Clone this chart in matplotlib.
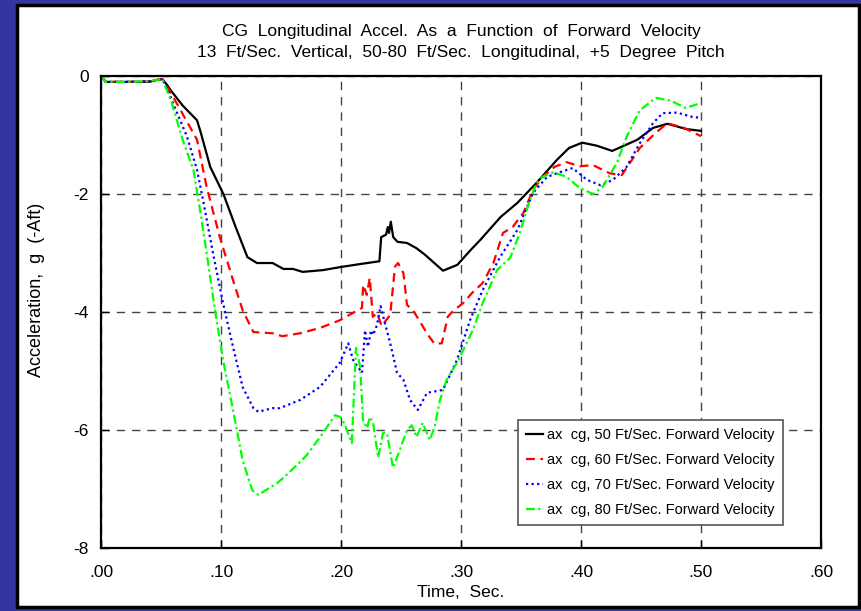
import numpy as np
import matplotlib
matplotlib.use("Agg")
import matplotlib.pyplot as plt
from matplotlib.patches import Rectangle

plt.rcParams['font.family'] = ['Liberation Sans', 'DejaVu Sans']
plt.rcParams['axes.unicode_minus'] = False

# time (s) and longitudinal acceleration at the CG (g), one pair per forward velocity
t_50 = [0.000, 0.004, 0.020, 0.040, 0.048, 0.051, 0.055, 0.058, 0.068, 0.080, 0.083, 0.091,
        0.102, 0.112, 0.122, 0.130, 0.143, 0.152, 0.160, 0.168, 0.185, 0.199, 0.215, 0.232,
        0.2335, 0.2375, 0.239, 0.240, 0.2415, 0.2435, 0.247, 0.255, 0.263, 0.270, 0.285,
        0.297, 0.308, 0.316, 0.333, 0.347, 0.363, 0.380, 0.390, 0.401, 0.413, 0.426, 0.447,
        0.460, 0.472, 0.488, 0.500]
a_50 = [0.00, -0.10, -0.10, -0.10, -0.06, -0.05, -0.15, -0.24, -0.50, -0.75, -0.95, -1.54,
        -2.00, -2.55, -3.07, -3.17, -3.17, -3.27, -3.27, -3.32, -3.29, -3.24, -3.19, -3.14,
        -2.73, -2.69, -2.56, -2.66, -2.47, -2.73, -2.81, -2.83, -2.92, -3.03, -3.30,
        -3.20, -2.95, -2.78, -2.39, -2.15, -1.81, -1.42, -1.22, -1.13, -1.18, -1.27, -1.08,
        -0.88, -0.81, -0.90, -0.93]

t_60 = [0.000, 0.004, 0.020, 0.040, 0.048, 0.051, 0.057, 0.063, 0.074, 0.080, 0.088, 0.099,
        0.110, 0.118, 0.127, 0.143, 0.151, 0.166, 0.1825, 0.199, 0.2175, 0.2185, 0.2215,
        0.224, 0.2265, 0.230, 0.234, 0.2375, 0.241, 0.245, 0.2475, 0.252, 0.255, 0.260,
        0.266, 0.2725, 0.278, 0.284, 0.289, 0.2935, 0.3017, 0.310, 0.318, 0.327, 0.335,
        0.343, 0.352, 0.360, 0.368, 0.378, 0.388, 0.399, 0.410, 0.424, 0.434, 0.449, 0.463,
        0.472, 0.486, 0.500]
a_60 = [0.00, -0.10, -0.10, -0.09, -0.06, -0.05, -0.25, -0.46, -0.86, -1.08, -1.88, -2.73,
        -3.46, -3.97, -4.34, -4.36, -4.41, -4.36, -4.27, -4.14, -3.93, -3.54, -3.71,
        -3.42, -4.08, -4.02, -4.24, -4.14, -4.05, -3.23, -3.17, -3.34, -3.88, -3.97,
        -4.17, -4.39, -4.54, -4.53, -4.08, -3.98, -3.85, -3.66, -3.51, -3.17, -2.66,
        -2.56, -2.32, -1.93, -1.71, -1.54, -1.46, -1.53, -1.51, -1.65, -1.68, -1.22, -0.95,
        -0.80, -0.88, -1.02]

t_70 = [0.000, 0.004, 0.020, 0.040, 0.048, 0.051, 0.056, 0.060, 0.0717, 0.080, 0.085, 0.0933,
        0.1017, 0.110, 0.118, 0.127, 0.131, 0.143, 0.149, 0.166, 0.1825, 0.199, 0.206, 0.210,
        0.2175, 0.220, 0.2225, 0.225, 0.2267, 0.230, 0.233, 0.236, 0.241, 0.2467, 0.252,
        0.2575, 0.264, 0.2717, 0.285, 0.2967, 0.3075, 0.318, 0.3325, 0.347, 0.360, 0.3717,
        0.3825, 0.393, 0.405, 0.416, 0.4267, 0.438, 0.449, 0.460, 0.468, 0.480, 0.492, 0.500]
a_70 = [0.00, -0.10, -0.10, -0.09, -0.06, -0.05, -0.25, -0.46, -1.03, -1.59, -2.10, -3.00,
        -3.85, -4.59, -5.27, -5.63, -5.69, -5.63, -5.63, -5.49, -5.27, -4.86, -4.53, -4.81,
        -5.03, -4.31, -4.59, -4.31, -4.39, -4.22, -3.90, -4.14, -4.53, -5.03, -5.15,
        -5.49, -5.66, -5.37, -5.32, -4.81, -4.14, -3.63, -3.07, -2.61, -1.98, -1.71,
        -1.63, -1.56, -1.76, -1.85, -1.76, -1.54, -1.14, -0.80, -0.63, -0.62, -0.69, -0.71]

t_80 = [0.000, 0.004, 0.020, 0.040, 0.048, 0.051, 0.055, 0.059, 0.068, 0.077, 0.0825, 0.088,
        0.095, 0.1017, 0.110, 0.118, 0.126, 0.131, 0.1467, 0.152, 0.166, 0.1717, 0.185, 0.195,
        0.1995, 0.203, 0.209, 0.2125, 0.216, 0.2183, 0.2217, 0.224, 0.2267, 0.231, 0.235,
        0.2383, 0.2433, 0.249, 0.255, 0.259, 0.263, 0.268, 0.274, 0.278, 0.2825, 0.288,
        0.2967, 0.310, 0.318, 0.330, 0.341, 0.349, 0.3575, 0.363, 0.368, 0.377, 0.388, 0.399,
        0.410, 0.418, 0.430, 0.438, 0.449, 0.4625, 0.475, 0.487, 0.500]
a_80 = [0.00, -0.10, -0.10, -0.09, -0.06, -0.05, -0.25, -0.46, -1.08, -1.59, -2.27, -3.00,
        -3.97, -4.81, -5.66, -6.51, -7.02, -7.10, -6.90, -6.81, -6.54, -6.42, -6.05, -5.75,
        -5.78, -5.90, -6.22, -4.61, -4.93, -5.83, -5.97, -5.78, -5.88, -6.47, -6.05,
        -6.05, -6.64, -6.34, -6.00, -5.92, -6.12, -5.88, -6.17, -5.95, -5.49, -5.15,
        -4.86, -4.30, -3.85, -3.29, -3.08, -2.66, -2.10, -1.81, -1.71, -1.63, -1.71, -1.90,
        -2.00, -1.88, -1.47, -1.03, -0.58, -0.37, -0.42, -0.54, -0.46]

x_ticks = [0.0, 0.1, 0.2, 0.3, 0.4, 0.5, 0.6]
x_tick_labels = ['.00', '.10', '.20', '.30', '.40', '.50', '.60']
y_ticks = [0, -2, -4, -6, -8]

fig = plt.figure(figsize=(8.62, 6.11), dpi=100)
fig.patch.set_facecolor('#3434a2')

# white slide panel behind the chart
fig.patches.append(Rectangle((0.0197, 0.0065), 0.977, 0.985, transform=fig.transFigure,
                             facecolor='white', edgecolor='black', linewidth=2.5, zorder=-10))

ax = fig.add_axes([0.1172, 0.1031, 0.8352, 0.7725])
ax.set_facecolor('white')

ax.plot(t_50, a_50, color='black', linestyle='-', linewidth=1.6,
        label='ax  cg, 50 Ft/Sec. Forward Velocity')
ax.plot(t_60, a_60, color='#ff0000', linestyle=(0, (4, 2.5)), linewidth=1.6,
        label='ax  cg, 60 Ft/Sec. Forward Velocity')
ax.plot(t_70, a_70, color='#0000ff', linestyle=(0, (1, 1.5)), linewidth=1.6,
        label='ax  cg, 70 Ft/Sec. Forward Velocity')
ax.plot(t_80, a_80, color='#00ff00', linestyle=(0, (4, 1.5, 1, 1.5)), linewidth=1.6,
        label='ax  cg, 80 Ft/Sec. Forward Velocity')

ax.set_xlim(0, 0.6)
ax.set_ylim(-8, 0)
ax.set_xticks(x_ticks)
ax.set_xticklabels(x_tick_labels)
ax.set_yticks(y_ticks)
ax.tick_params(direction='in', length=6, width=1, labelsize=12.5, pad=9)
ax.tick_params(axis='x', pad=12)
ax.grid(True, color='#444444', linestyle=(0, (6, 5)), linewidth=1)
for s in ax.spines.values():
    s.set_linewidth(1.6)

ax.set_title('CG  Longitudinal  Accel.  As  a  Function  of  Forward  Velocity\n'
             '13  Ft/Sec.  Vertical,  50-80  Ft/Sec.  Longitudinal,  +5  Degree  Pitch',
             fontsize=12.5, linespacing=1.45, pad=14)
ax.set_xlabel('Time,  Sec.', fontsize=12.5)
ax.set_ylabel('Acceleration,  g  (-Aft)', fontsize=13)
ax.xaxis.set_label_coords(0.5, -0.078)
ax.yaxis.set_label_coords(-0.078, 0.547)

leg = ax.legend(loc='lower left', bbox_to_anchor=(0.579, 0.0487), fontsize=10.5,
                handlelength=1.2, handletextpad=0.25, labelspacing=0.75,
                borderpad=0.55, borderaxespad=0, fancybox=False, framealpha=1)
leg.get_frame().set_edgecolor('#555555')
leg.get_frame().set_linewidth(1.2)

fig.savefig('out.png', dpi=100, facecolor=fig.get_facecolor())
